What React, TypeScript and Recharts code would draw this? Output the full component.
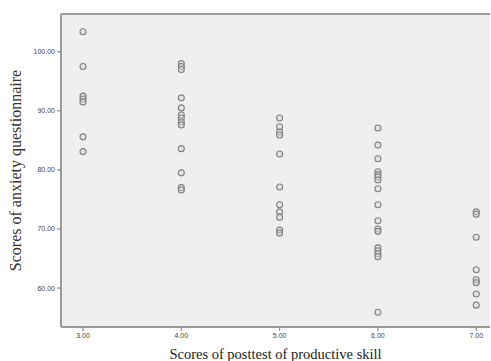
import React from "react";
import { ScatterChart, Scatter, XAxis, YAxis, CartesianGrid, ReferenceLine, Label } from "recharts";

const xTicks = [3, 4, 5, 6, 7];
const yTicks = [60, 70, 80, 90, 100];

const scores3 = [103.4, 97.5, 92.5, 92.0, 91.5, 85.6, 83.1];
const scores4 = [98.0, 97.5, 97.0, 92.2, 90.5, 89.3, 88.8, 88.1, 87.6, 83.6, 79.5, 77.0, 76.6];
const scores5 = [88.8, 87.3, 86.4, 85.9, 82.7, 77.1, 74.1, 72.9, 72.0, 69.8, 69.3];
const scores6 = [87.1, 84.2, 81.9, 79.7, 79.2, 78.8, 78.3, 76.8, 74.1, 71.4, 70.0, 69.6, 66.8, 66.3, 65.8, 65.3, 55.9];
const scores7 = [72.9, 72.5, 68.6, 63.1, 61.4, 60.9, 59.0, 57.1];

const groups: [number, number[]][] = [
  [3, scores3],
  [4, scores4],
  [5, scores5],
  [6, scores6],
  [7, scores7],
];

const points = groups.flatMap(([x, ys]) => ys.map((y) => ({ x, y })));

const Dot = (props: any) => {
  const { cx, cy } = props;
  return <circle cx={cx} cy={cy} r={3} fill="#d8d8d8" fillOpacity={0.5} stroke="#808080" strokeWidth={1.1} />;
};

const YLabel = (props: any) => {
  const vb = props.viewBox;
  const x = vb.x + 15;
  const y = vb.y + vb.height / 2;
  return (
    <text x={x} y={y} transform={`rotate(-90 ${x} ${y})`} textAnchor="middle" dominantBaseline="central"
      fontFamily="Liberation Serif" fontSize={16} fill="#333">
      Scores of anxiety questionnaire
    </text>
  );
};

const tickStyle = { fontSize: 7, fill: "#444", fontFamily: "Liberation Sans" };

export default function App() {
  return (
    <div style={{ position: "absolute", left: 0, top: 0, background: "#fff" }}>
      <ScatterChart width={491} height={361} margin={{ top: 14, right: 1, bottom: 0, left: 0 }}>
        <CartesianGrid fill="#efefef" horizontal={false} vertical={false} />
        <XAxis
          type="number"
          dataKey="x"
          domain={[2.776, 7.14]}
          ticks={xTicks}
          tickFormatter={(v: number) => v.toFixed(2)}
          height={34}
          axisLine={{ stroke: "#999", strokeWidth: 2 }}
          tickLine={{ stroke: "#777" }}
          tickSize={4}
          tick={tickStyle}
          allowDataOverflow
        >
          <Label value="Scores of posttest of productive skill" position="insideBottom" offset={2}
            style={{ fontFamily: "Liberation Serif", fontSize: 14.5, fill: "#222" }} />
        </XAxis>
        <YAxis
          type="number"
          dataKey="y"
          domain={[53.4, 106.4]}
          ticks={yTicks}
          tickFormatter={(v: number) => v.toFixed(2)}
          width={61}
          axisLine={{ stroke: "#999", strokeWidth: 2 }}
          tickLine={{ stroke: "#777" }}
          tickSize={4}
          tick={tickStyle}
          allowDataOverflow
        >
          <Label content={<YLabel />} />
        </YAxis>
        <ReferenceLine y={106.4} stroke="#999" strokeWidth={2} />
        <Scatter data={points} shape={<Dot />} isAnimationActive={false} />
      </ScatterChart>
    </div>
  );
}
